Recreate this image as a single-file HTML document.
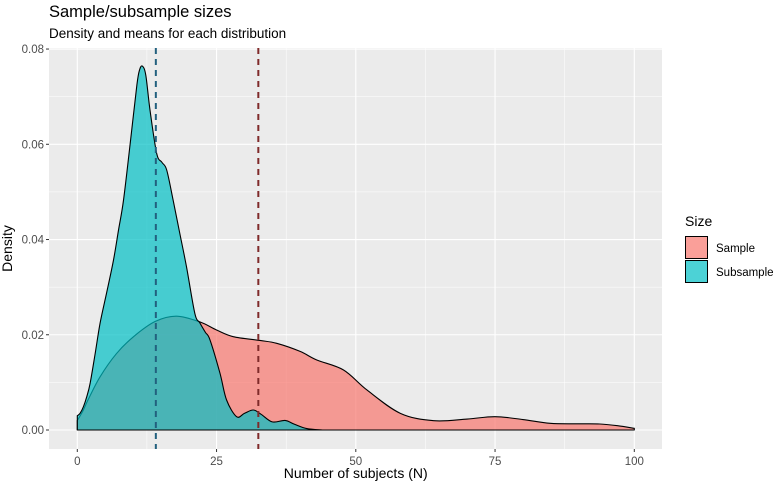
<!DOCTYPE html>
<html><head><meta charset="utf-8"><style>
body{margin:0;background:#fff;font-family:"Liberation Sans",sans-serif;}
svg{display:block}
</style></head><body>
<svg id="chart" width="778" height="487" font-family="Liberation Sans, sans-serif">
<text x="49" y="17" font-size="16.5" fill="#000">Sample/subsample sizes</text>
<text x="49" y="38" font-size="13.5" fill="#000">Density and means for each distribution</text>
<rect x="49" y="48" width="613" height="401" fill="#EBEBEB"/>
<g id="grid"></g><g id="marks"></g><g id="axes"></g>
<text x="355.7" y="478" font-size="14" text-anchor="middle">Number of subjects (N)</text>
<text transform="translate(12,248.5) rotate(-90)" font-size="14" text-anchor="middle">Density</text>
<g>
<text x="685" y="226" font-size="14">Size</text>
<rect x="685.5" y="236.5" width="22" height="22" fill="#F8766D" fill-opacity="0.7" stroke="#000" stroke-width="1"/>
<rect x="685.5" y="260.5" width="22" height="22" fill="#00BFC4" fill-opacity="0.7" stroke="#000" stroke-width="1"/>
<text x="716" y="252" font-size="11.5">Sample</text>
<text x="716" y="276" font-size="11.5">Subsample</text>
</g>
</svg>
<script>
const xTicks=[0,25,50,75,100];
const yTicks=[0,0.02,0.04,0.06,0.08];
const yTickLabels=["0.00","0.02","0.04","0.06","0.08"];
const sampleX=[0,1,2,4.1,7,10.1,14,17.8,22,25,28,32.8,35.8,40,43,47.8,52,58,64,70,75,80,84.9,90,93.8,97,100];
const sampleY=[0.002,0.004,0.0065,0.0112,0.016,0.0196,0.0228,0.0239,0.0227,0.021,0.0196,0.0188,0.0182,0.0165,0.0147,0.0126,0.0084,0.0035,0.00195,0.0023,0.0028,0.0022,0.0014,0.0013,0.00126,0.0009,0.00035];
const subX=[0,0.5,1.1,1.7,2.3,3.2,4.1,5.3,6.5,7.4,8.3,9.5,10.7,11.2,11.7,12.3,13.05,14.25,15.2,16.05,17.2,18.4,19.6,21.1,22,23,23.8,25.6,26.8,28.6,30,31.6,33,35,37.3,39,41.2,44];
const subY=[0.003,0.0035,0.0049,0.007,0.0098,0.016,0.0225,0.029,0.0357,0.042,0.0483,0.0602,0.0725,0.0757,0.0764,0.0745,0.0672,0.0581,0.0562,0.0546,0.0483,0.0413,0.0343,0.0245,0.0225,0.0205,0.019,0.012,0.0063,0.0028,0.0035,0.0042,0.0033,0.0017,0.002,0.0012,0.0003,0];
const means=[32.5,14.1];
const X=v=>77.3+v*5.57, Y=v=>430-v*4762;
const NS="http://www.w3.org/2000/svg";
function mk(tag,attrs,parent){const e=document.createElementNS(NS,tag);for(const k in attrs)e.setAttribute(k,attrs[k]);parent.appendChild(e);return e;}
const grid=document.getElementById('grid'),marks=document.getElementById('marks'),axes=document.getElementById('axes');
for(let i=0;i<xTicks.length;i++){
 const x=X(xTicks[i]);
 const g=mk('line',{x1:x,x2:x,y1:48,y2:449,stroke:'#fff','stroke-width':1.1},grid);
 
 
 if(i<xTicks.length-1){const m=X((xTicks[i]+xTicks[i+1])/2);const gm=mk('line',{x1:m,x2:m,y1:48,y2:449,stroke:'#fff','stroke-width':0.5},grid);
 
 }
 const t=mk('line',{x1:x,x2:x,y1:449,y2:452,stroke:'#333'},axes);
 
 
 const l=mk('text',{x:x,y:465,'font-size':11.5,'text-anchor':'middle',fill:'#4d4d4d'},axes);l.textContent=xTicks[i];
 
 
}
for(let i=0;i<yTicks.length;i++){
 const y=Y(yTicks[i]);
 const g=mk('line',{x1:49,x2:662,y1:y,y2:y,stroke:'#fff','stroke-width':1.1},grid);
 
 
 if(i<yTicks.length-1){const m=Y((yTicks[i]+yTicks[i+1])/2);const gm=mk('line',{x1:49,x2:662,y1:m,y2:m,stroke:'#fff','stroke-width':0.5},grid);
 
 }
 const t=mk('line',{x1:46,x2:49,y1:y,y2:y,stroke:'#333'},axes);
 
 
 const l=mk('text',{x:44,y:y+4,'font-size':11.5,'text-anchor':'end',fill:'#4d4d4d'},axes);l.textContent=yTickLabels[i];
 
 
}
function smooth(xs,ys){
 const p=xs.map((v,i)=>[X(v),Y(ys[i])]);
 let d=`M${p[0][0]},${p[0][1]}`;
 for(let i=0;i<p.length-1;i++){
  const p0=p[i-1]||p[i],p1=p[i],p2=p[i+1],p3=p[i+2]||p2;
  const c1=[p1[0]+(p2[0]-p0[0])/6,p1[1]+(p2[1]-p0[1])/6];
  const c2=[p2[0]-(p3[0]-p1[0])/6,p2[1]-(p3[1]-p1[1])/6];
  d+=` C${c1[0]},${c1[1]} ${c2[0]},${c2[1]} ${p2[0]},${p2[1]}`;
 }
 return d;
}
function area(xs,ys,col,name){
 const d=smooth(xs,ys)+` L${X(xs[xs.length-1])},${Y(0)} L${X(xs[0])},${Y(0)} Z`;
 const a=mk('path',{d:d,fill:col,'fill-opacity':0.7,stroke:'#000','stroke-width':1.1,'stroke-linejoin':'round'},marks);
 
 
}
area(sampleX,sampleY,'#F8766D','sample-density');
area(subX,subY,'#00BFC4','subsample-density');
const mcol=['#7f2a2a','#22607e'];const mname=['sample-mean-line','subsample-mean-line'];
for(let i=0;i<means.length;i++){
 const v=mk('line',{x1:X(means[i]),x2:X(means[i]),y1:48,y2:449,stroke:mcol[i],'stroke-width':2,'stroke-dasharray':'6,5'},marks);
 
 
}
</script>
</body></html>
